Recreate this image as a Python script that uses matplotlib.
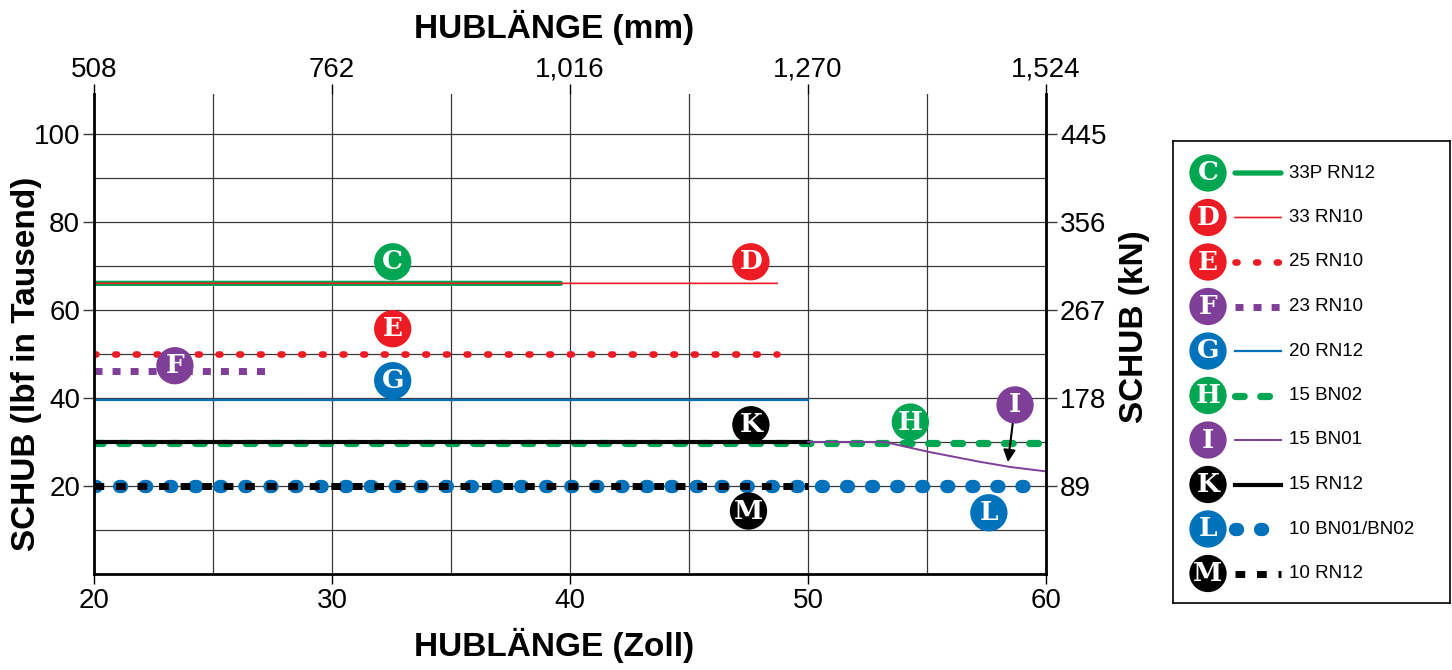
import numpy as np
import matplotlib.pyplot as plt

plt.rcParams['font.family'] = ['Liberation Sans Narrow', 'Liberation Sans', 'DejaVu Sans']

# Hublänge in Zoll, Schub in 1000 lbf
series = ['C', 'D', 'E', 'F', 'G', 'H', 'K', 'I', 'L', 'M']
names = {'C': '33P RN12', 'D': '33 RN10', 'E': '25 RN10', 'F': '23 RN10', 'G': '20 RN12',
         'H': '15 BN02', 'I': '15 BN01', 'K': '15 RN12', 'L': '10 BN01/BN02', 'M': '10 RN12'}
x_C = [20, 39.6]; y_C = [66, 66]
x_D = [20, 48.7]; y_D = [66, 66]
x_E = [20, 48.7]; y_E = [50, 50]
x_F = [20, 27.3]; y_F = [46, 46]
x_G = [20, 50]; y_G = [39.6, 39.6]
x_H = [20, 60]; y_H = [29.8, 29.8]
x_K = [20, 50]; y_K = [30, 30]
x_I = [50, 53.2, 55.1, 57.2, 58.5, 60]; y_I = [30, 30, 27.7, 25.5, 24.3, 23.3]
x_L = [20, 60]; y_L = [20, 20]
x_M = [20, 50]; y_M = [20, 20]
data = {'C': (x_C, y_C), 'D': (x_D, y_D), 'E': (x_E, y_E), 'F': (x_F, y_F), 'G': (x_G, y_G),
        'H': (x_H, y_H), 'K': (x_K, y_K), 'I': (x_I, y_I), 'L': (x_L, y_L), 'M': (x_M, y_M)}

# badge positions (letter circles)
badges = {'C': (32.55, 70.9), 'D': (47.6, 70.9), 'E': (32.55, 55.7), 'F': (23.4, 47.3),
          'G': (32.55, 43.9), 'K': (47.6, 33.9), 'H': (54.3, 34.5), 'I': (58.7, 38.4),
          'M': (47.5, 14.3), 'L': (57.6, 13.9)}
arrow_tip_I = (58.4, 25.4)

x_ticks = [20, 30, 40, 50, 60]
mm_labels = ['508', '762', '1,016', '1,270', '1,524']
y_ticks = [20, 40, 60, 80, 100]
kn_labels = ['89', '178', '267', '356', '445']

GREEN = '#00a651'; RED = '#ed1c24'; PURPLE = '#7f3f98'; BLUE = '#0072bc'; BLACK = '#000000'
colors = {'C': GREEN, 'D': RED, 'E': RED, 'F': PURPLE, 'G': BLUE, 'H': GREEN,
          'I': PURPLE, 'K': BLACK, 'L': BLUE, 'M': BLACK}
styles = {
    'C': dict(lw=3.8, solid_capstyle='round', snap=False),
    'D': dict(lw=1.2, snap=False),
    'E': dict(lw=4.8, dashes=(0.3, 2.8), dash_capstyle='round'),
    'F': dict(lw=5, dashes=(1.15, 1.45), dash_capstyle='butt'),
    'G': dict(lw=1.6),
    'H': dict(lw=5.2, dashes=(1.2, 2.3), dash_capstyle='round'),
    'I': dict(lw=1.4),
    'K': dict(lw=3.0),
    'L': dict(lw=9.6, dashes=(0.15, 1.73), dash_capstyle='round'),
    'M': dict(lw=5, dashes=(1.4, 1.7), dash_capstyle='butt'),
}

W, H = 1452, 670
fig = plt.figure(figsize=(W / 100, H / 100), dpi=100)
ax = fig.add_axes([94 / W, 96 / H, 952 / W, 480 / H])
ax.set_xlim(20, 60)
ax.set_ylim(0, 109)

grid_c = '#3a3a3a'
ax.set_xticks(x_ticks)
ax.set_xticks([25, 35, 45, 55], minor=True)
ax.set_yticks(y_ticks)
ax.set_yticks([10, 30, 50, 70, 90], minor=True)
ax.grid(True, which='both', color=grid_c, lw=0.9)
ax.tick_params(axis='x', which='major', length=7, width=1, pad=3, labelsize=20)
ax.tick_params(axis='y', which='major', length=8, width=1, color=grid_c, pad=2, labelsize=20)
ax.tick_params(which='minor', length=0)
ax.spines['top'].set_visible(False)
for s in ['left', 'right', 'bottom']:
    ax.spines[s].set_linewidth(2)

top = ax.secondary_xaxis('top')
top.set_xticks(x_ticks, mm_labels)
top.tick_params(length=7, width=1, pad=1, labelsize=20)
top.spines['top'].set_visible(False)
right = ax.secondary_yaxis('right')
right.set_yticks(y_ticks, kn_labels)
right.tick_params(length=8, width=1, color=grid_c, pad=2, labelsize=20)
right.spines['right'].set_visible(False)

for k in series:
    xs, ys = data[k]
    ax.plot(xs, ys, color=colors[k], **styles[k])

badge_font = dict(family='DejaVu Serif', weight='bold', color='white', fontsize=19)
for k, (bx, by) in badges.items():
    ax.scatter([bx], [by], s=720, color=colors[k], zorder=5, edgecolors='none')
    ax.text(bx, by, k, ha='center', va='center', zorder=6, **badge_font)

ax.annotate('', xy=arrow_tip_I, xytext=badges['I'],
            arrowprops=dict(arrowstyle='-|>', color='black', lw=1.5, shrinkA=13, shrinkB=0,
                            mutation_scale=18), zorder=4)

title_font = dict(weight='bold', fontsize=24)
fig.text(554 / W, 1 - 27 / H, 'HUBLÄNGE (mm)', ha='center', va='center', **title_font)
fig.text(554 / W, 1 - 645 / H, 'HUBLÄNGE (Zoll)', ha='center', va='center', **title_font)
fig.text(27 / W, 1 - 364 / H, 'SCHUB (lbf in Tausend)', ha='center', va='center',
         rotation=90, **title_font)
fig.text(1135 / W, 1 - 327 / H, 'SCHUB (kN)', ha='center', va='center', rotation=90, **title_font)

# legend box
lax = fig.add_axes([1173 / W, 1 - 603 / H, 277 / W, 462 / H])
lax.set_xlim(0, 277)
lax.set_ylim(462, 0)
lax.set_xticks([])
lax.set_yticks([])
for s in lax.spines.values():
    s.set_linewidth(1.2)
legend_order = ['C', 'D', 'E', 'F', 'G', 'H', 'I', 'K', 'L', 'M']
for i, k in enumerate(legend_order):
    yy = 32 + 44.5 * i
    lax.plot([62, 108], [yy, yy], color=colors[k], **styles[k])
    lax.scatter([35], [yy], s=720, color=colors[k], zorder=5, edgecolors='none')
    lax.text(35, yy, k, ha='center', va='center', zorder=6, **badge_font)
    lax.text(116, yy, names[k], ha='left', va='center', fontsize=13.5)

fig.savefig('out.png', dpi=100)
